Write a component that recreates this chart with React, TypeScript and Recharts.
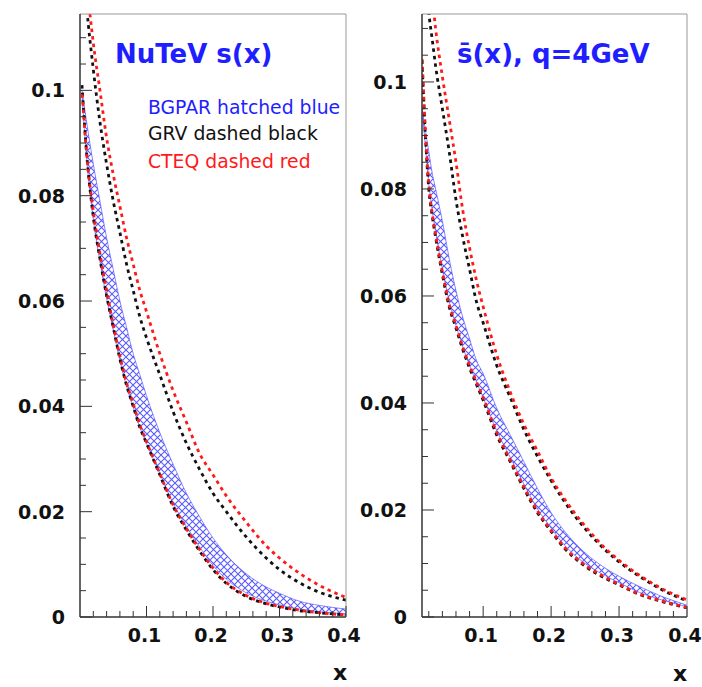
import { ComposedChart, Line, Area, XAxis, YAxis } from "recharts";

// NuTeV s(x) panel
const leftX = [0.003, 0.01, 0.02, 0.03, 0.04, 0.05, 0.06, 0.07, 0.08, 0.09, 0.1, 0.12, 0.14, 0.16, 0.18, 0.2, 0.22, 0.25, 0.28, 0.3, 0.33, 0.36, 0.4];
const leftGrvLo = [0.101, 0.088, 0.076, 0.068, 0.061, 0.055, 0.049, 0.044, 0.04, 0.036, 0.033, 0.027, 0.021, 0.0165, 0.0125, 0.009, 0.0064, 0.0039, 0.0025, 0.0019, 0.0012, 0.0008, 0.0004];
const leftGrvHi = [0.128, 0.116, 0.104, 0.094, 0.086, 0.079, 0.073, 0.067, 0.062, 0.057, 0.053, 0.046, 0.039, 0.033, 0.028, 0.0235, 0.02, 0.0152, 0.0112, 0.009, 0.0065, 0.0047, 0.0032];
const leftCteqLo = [0.1, 0.088, 0.077, 0.069, 0.062, 0.0555, 0.0495, 0.0445, 0.0405, 0.0365, 0.0333, 0.0272, 0.0213, 0.0168, 0.0128, 0.0093, 0.0066, 0.0041, 0.0026, 0.002, 0.0013, 0.0008, 0.0004];
const leftCteqHi = [0.133, 0.121, 0.109, 0.1, 0.091, 0.084, 0.078, 0.072, 0.067, 0.062, 0.058, 0.05, 0.043, 0.037, 0.031, 0.027, 0.023, 0.018, 0.0135, 0.0112, 0.0083, 0.006, 0.0037];
const leftBgLo = [0.099, 0.087, 0.0755, 0.0675, 0.0605, 0.0545, 0.0487, 0.0438, 0.0398, 0.036, 0.033, 0.0272, 0.0216, 0.0172, 0.0133, 0.0098, 0.0072, 0.0046, 0.003, 0.0023, 0.0015, 0.001, 0.0006];
const leftBgHi = [0.1, 0.094, 0.086, 0.079, 0.072, 0.066, 0.06, 0.055, 0.05, 0.046, 0.042, 0.035, 0.029, 0.0235, 0.019, 0.015, 0.0118, 0.0082, 0.0057, 0.0045, 0.003, 0.0022, 0.0015];

// s-bar(x), q=4GeV panel
const rightX = [0.01, 0.015, 0.02, 0.025, 0.03, 0.04, 0.05, 0.06, 0.07, 0.08, 0.09, 0.1, 0.12, 0.14, 0.16, 0.18, 0.2, 0.22, 0.25, 0.28, 0.3, 0.33, 0.36, 0.4];
const rightGrvLo = [0.104, 0.09, 0.08, 0.075, 0.071, 0.064, 0.058, 0.054, 0.05, 0.0465, 0.0435, 0.0405, 0.034, 0.029, 0.024, 0.0195, 0.016, 0.0128, 0.0095, 0.0072, 0.006, 0.0042, 0.003, 0.0017];
const rightGrvHi = [0.13, 0.121, 0.113, 0.108, 0.103, 0.095, 0.087, 0.078, 0.071, 0.065, 0.059, 0.055, 0.047, 0.041, 0.035, 0.03, 0.0255, 0.0215, 0.0165, 0.0125, 0.0103, 0.0076, 0.0053, 0.003];
const rightCteqLo = [0.105, 0.091, 0.081, 0.0755, 0.0715, 0.0645, 0.0585, 0.0545, 0.0505, 0.047, 0.044, 0.041, 0.0345, 0.0293, 0.0243, 0.0198, 0.0162, 0.013, 0.0097, 0.0074, 0.0061, 0.0043, 0.0031, 0.0018];
const rightCteqHi = [0.14, 0.13, 0.122, 0.116, 0.11, 0.101, 0.093, 0.085, 0.076, 0.069, 0.063, 0.058, 0.049, 0.042, 0.036, 0.031, 0.026, 0.022, 0.017, 0.0128, 0.0106, 0.0078, 0.0055, 0.0032];
const rightBgLo = [0.095, 0.088, 0.081, 0.076, 0.072, 0.065, 0.059, 0.0545, 0.0505, 0.047, 0.044, 0.041, 0.0348, 0.0298, 0.0248, 0.0202, 0.0166, 0.0134, 0.01, 0.0077, 0.0064, 0.0046, 0.0033, 0.0019];
const rightBgHi = [0.095, 0.091, 0.087, 0.083, 0.08, 0.074, 0.067, 0.061, 0.056, 0.052, 0.048, 0.0455, 0.039, 0.034, 0.029, 0.024, 0.0195, 0.016, 0.012, 0.0091, 0.0076, 0.0057, 0.004, 0.0022];

const yMajor = [0, 0.02, 0.04, 0.06, 0.08, 0.1];
const yMajorLabels = ["0", "0.02", "0.04", "0.06", "0.08", "0.1"];
const yTicks = [0, 0.005, 0.01, 0.015, 0.02, 0.025, 0.03, 0.035, 0.04, 0.045, 0.05, 0.055, 0.06, 0.065, 0.07, 0.075, 0.08, 0.085, 0.09, 0.095, 0.1, 0.105, 0.11];
const xMajor = [0.1, 0.2, 0.3, 0.4];
const xMajorLabels = ["0.1", "0.2", "0.3", "0.4"];
const xTicks = [0.02, 0.04, 0.06, 0.08, 0.1, 0.12, 0.14, 0.16, 0.18, 0.2, 0.22, 0.24, 0.26, 0.28, 0.3, 0.32, 0.34, 0.36, 0.38, 0.4];

const FONT = "'DejaVu Sans', sans-serif";
const BLUE = "#1e1eff";

function rows(xs: number[], gl: number[], gh: number[], cl: number[], ch: number[], bl: number[], bh: number[]) {
  return xs.map((x, i) => ({
    x,
    grvLo: gl[i],
    grvHi: gh[i],
    cteqLo: cl[i],
    cteqHi: ch[i],
    bg: [bl[i], bh[i]],
  }));
}

function YTick(props: any) {
  const { x, y, payload } = props;
  const i = yMajor.indexOf(payload.value);
  const len = i >= 0 ? 12 : 6;
  return (
    <g>
      <line x1={x} x2={x + len} y1={y} y2={y} stroke="#333" strokeWidth={1} />
      {i >= 0 && (
        <text x={x - 15} y={y} dy="0.36em" textAnchor="end" fontFamily={FONT} fontWeight="bold" fontSize={19} fill="#111">
          {yMajorLabels[i]}
        </text>
      )}
    </g>
  );
}

function XTick(props: any) {
  const { x, y, payload } = props;
  const i = xMajor.indexOf(payload.value);
  const len = i >= 0 ? 11 : 6;
  return (
    <g>
      <line x1={x} x2={x} y1={y} y2={y - len} stroke="#333" strokeWidth={1} />
      {i >= 0 && (
        <text x={x - 2} y={y + 25} textAnchor="middle" fontFamily={FONT} fontWeight="bold" fontSize={19} fill="#111">
          {xMajorLabels[i]}
        </text>
      )}
    </g>
  );
}

interface PanelProps {
  id: string;
  data: any[];
  xMin: number;
  yMax: number;
  width: number;
  marginLeft: number;
  marginRight: number;
}

function Panel({ id, data, xMin, yMax, width, marginLeft, marginRight }: PanelProps) {
  const dash = "3.5 4";
  return (
    <ComposedChart
      width={width}
      height={687}
      data={data}
      margin={{ top: 13, left: marginLeft, right: marginRight, bottom: 69 }}
    >
      <defs>
        <pattern id={id} width="7" height="7" patternUnits="userSpaceOnUse">
          <path d="M0,0 L7,7 M7,0 L0,7" stroke="#2f2fff" strokeWidth={1.1} strokeOpacity={0.8} />
        </pattern>
      </defs>
      <XAxis
        dataKey="x"
        type="number"
        domain={[xMin, 0.4]}
        allowDataOverflow
        ticks={xTicks}
        interval={0}
        height={1}
        tickSize={0}
        tickMargin={0}
        tick={<XTick />}
        axisLine={{ stroke: "#333", strokeWidth: 1.5 }}
      />
      <XAxis xAxisId="top" orientation="top" type="number" domain={[0, 1]} height={1} tick={false} tickLine={false} axisLine={{ stroke: "#999" }} />
      <YAxis
        type="number"
        domain={[0, yMax]}
        allowDataOverflow
        ticks={yTicks}
        interval={0}
        width={1}
        tickSize={0}
        tickMargin={0}
        tick={<YTick />}
        axisLine={{ stroke: "#333", strokeWidth: 1.5 }}
      />
      <YAxis yAxisId="right" orientation="right" type="number" domain={[0, 1]} width={1} tick={false} tickLine={false} axisLine={{ stroke: "#999" }} />
      <Area
        dataKey="bg"
        type="monotone"
        fill={`url(#${id})`}
        fillOpacity={1}
        stroke="#5a5aff"
        strokeOpacity={0.7}
        strokeWidth={1}
        isAnimationActive={false}
      />
      <Line dataKey="grvLo" type="monotone" stroke="#111" strokeWidth={2.8} strokeDasharray={dash} dot={false} isAnimationActive={false} />
      <Line dataKey="grvHi" type="monotone" stroke="#111" strokeWidth={2.8} strokeDasharray={dash} dot={false} isAnimationActive={false} />
      <Line dataKey="cteqLo" type="monotone" stroke="#ff1a1a" strokeWidth={2.8} strokeDasharray={dash} strokeDashoffset={3.5} dot={false} isAnimationActive={false} />
      <Line dataKey="cteqHi" type="monotone" stroke="#ff1a1a" strokeWidth={2.8} strokeDasharray={dash} dot={false} isAnimationActive={false} />
    </ComposedChart>
  );
}

const textStyle = (left: number, top: number, size: number, color: string, bold: boolean): React.CSSProperties => ({
  position: "absolute",
  left,
  top,
  fontFamily: FONT,
  fontSize: size,
  lineHeight: 1,
  fontWeight: bold ? "bold" : "normal",
  color,
  whiteSpace: "nowrap",
});

export default function App() {
  const leftData = rows(leftX, leftGrvLo, leftGrvHi, leftCteqLo, leftCteqHi, leftBgLo, leftBgHi);
  const rightData = rows(rightX, rightGrvLo, rightGrvHi, rightCteqLo, rightCteqHi, rightBgLo, rightBgHi);
  return (
    <div style={{ position: "absolute", left: 0, top: 0, width: 702, height: 687, background: "#fff", overflow: "hidden" }}>
      <div style={{ position: "absolute", left: 0, top: 0 }}>
        <Panel id="hatchLeft" data={leftData} xMin={0} yMax={0.1145} width={380} marginLeft={79} marginRight={33} />
      </div>
      <div style={{ position: "absolute", left: 360, top: 0 }}>
        <Panel id="hatchRight" data={rightData} xMin={0.01} yMax={0.1127} width={342} marginLeft={61} marginRight={14} />
      </div>
      <div style={textStyle(115, 41, 26, BLUE, true)}>NuTeV s(x)</div>
      <div style={textStyle(148, 99, 18.8, BLUE, false)}>BGPAR hatched blue</div>
      <div style={textStyle(148, 125, 18.8, "#111", false)}>GRV dashed black</div>
      <div style={textStyle(148, 153, 18.8, "#ff1a1a", false)}>CTEQ dashed red</div>
      <div style={textStyle(457, 41, 26, BLUE, true)}>{"s\u0304(x), q=4GeV"}</div>
      <div style={textStyle(333, 662, 22, "#111", true)}>x</div>
      <div style={textStyle(673, 663, 22, "#111", true)}>x</div>
    </div>
  );
}
